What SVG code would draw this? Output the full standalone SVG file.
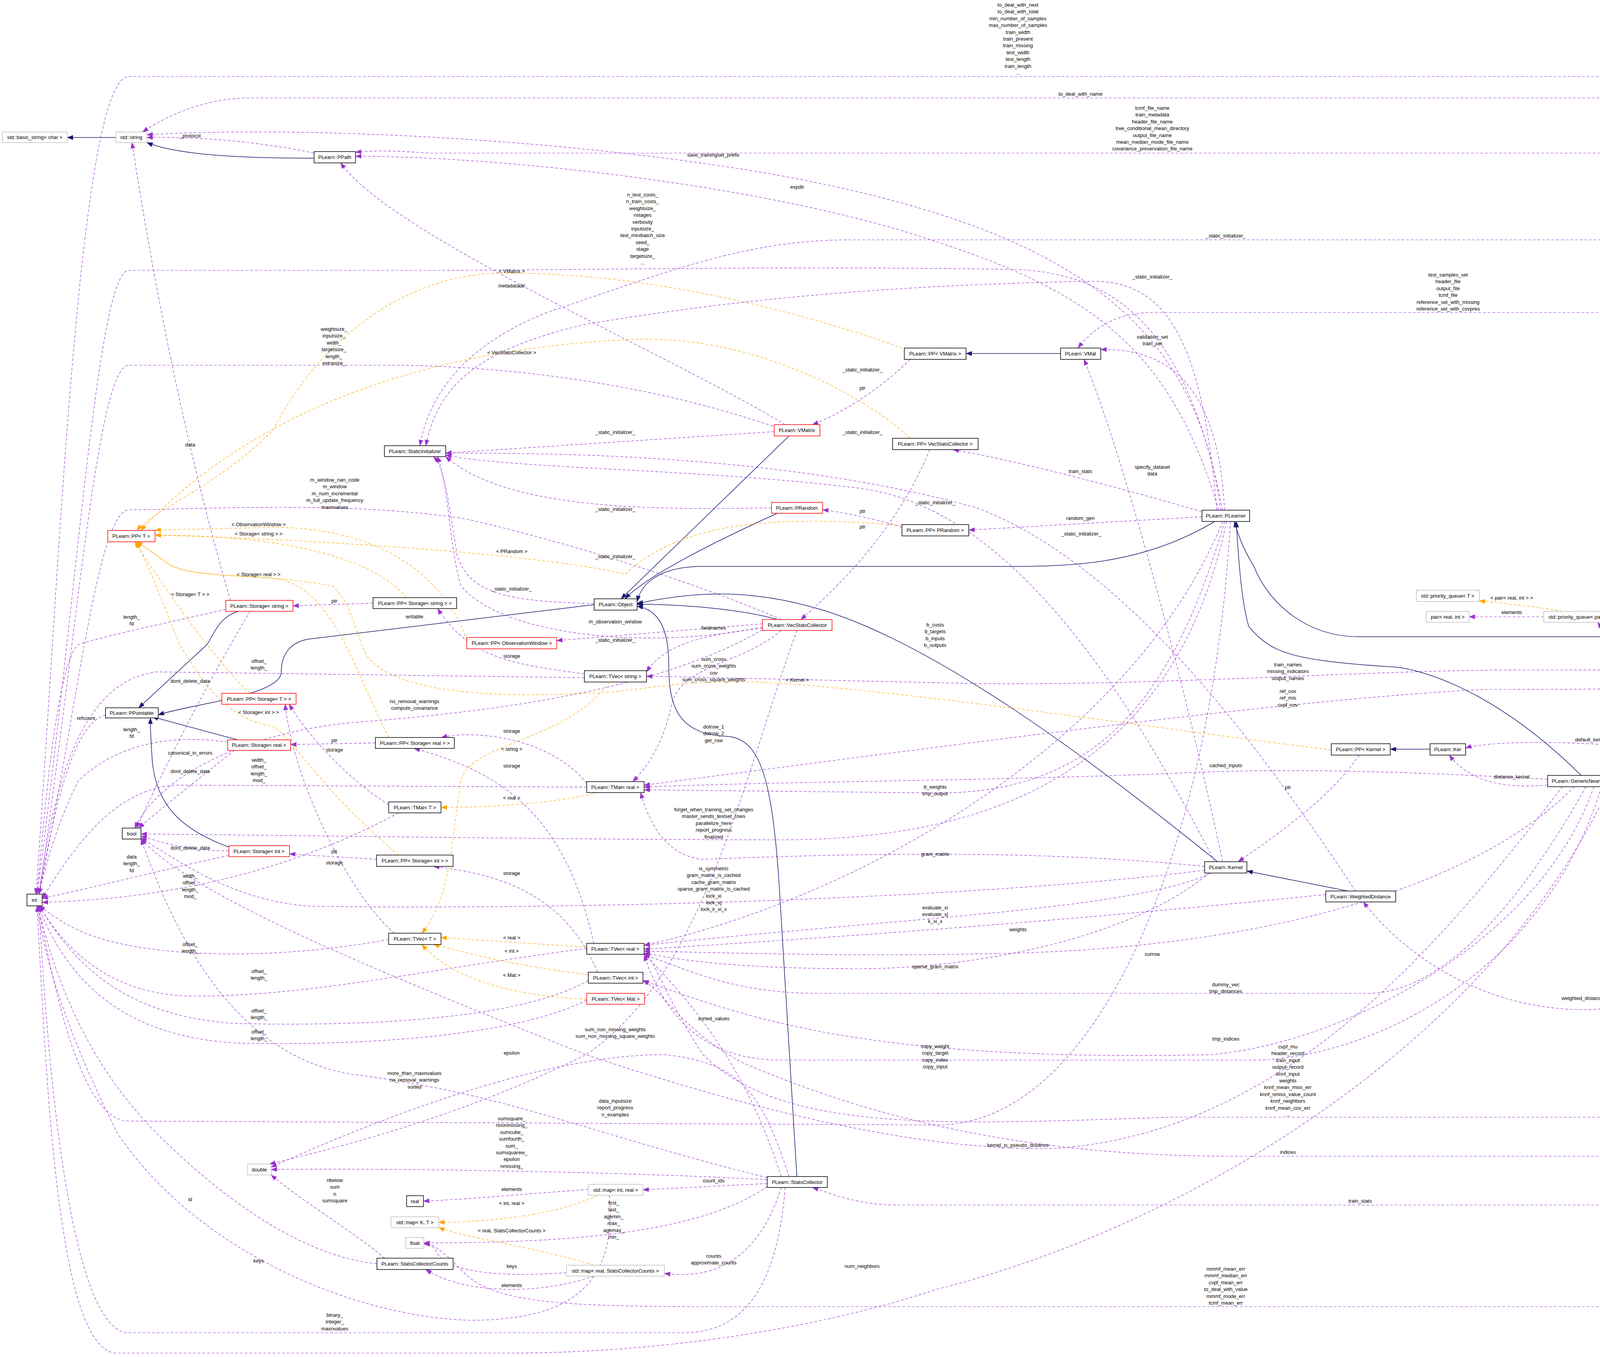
<svg xmlns="http://www.w3.org/2000/svg" width="4771" height="3474" viewBox="0 0 4771 3474">
<style>
text{font-family:"Liberation Sans",Arial,sans-serif;font-size:13px;fill:#000;text-anchor:middle}
.n{fill:#fff;stroke:#000;stroke-width:1.5}
.g{fill:#fff;stroke:#bfbfbf;stroke-width:1.5}
.r{fill:#fff;stroke:#f00;stroke-width:1.5}
.h{fill:#bfbfbf;stroke:#000;stroke-width:1.5}
.e{fill:none;stroke:#9a32cd;stroke-width:1.2;stroke-dasharray:7,5;marker-end:url(#ap)}
.o{fill:none;stroke:#ffa500;stroke-width:1.2;stroke-dasharray:7,5;marker-end:url(#ao)}
.s{fill:none;stroke:#191970;stroke-width:1.5;marker-end:url(#as)}
</style>
<defs>
<marker id="ap" markerUnits="userSpaceOnUse" markerWidth="16" markerHeight="12" refX="15" refY="6" orient="auto"><path d="M0,0L16,6L0,12z" fill="#9a32cd"/></marker>
<marker id="ao" markerUnits="userSpaceOnUse" markerWidth="16" markerHeight="12" refX="15" refY="6" orient="auto"><path d="M0,0L16,6L0,12z" fill="#ffa500"/></marker>
<marker id="as" markerUnits="userSpaceOnUse" markerWidth="16" markerHeight="12" refX="15" refY="6" orient="auto"><path d="M0,0L16,6L0,12z" fill="#191970"/></marker>
</defs>
<rect width="4771" height="3474" fill="#fff"/>
<g id="connectors">
<path class="e" d="M4678,1726 C4660,1000 4600,196 4420,196 L330,196 C200,196 150,1500 92,2289"/>
<path class="e" d="M4672,1726 C4650,1000 4580,251 4400,251 L640,251 C520,251 420,300 365,338"/>
<path class="e" d="M4666,1726 C4640,1000 4560,392 4400,392 L1100,392 C1000,385 950,385 910,390"/>
<path class="e" d="M4660,1726 C4620,1100 4560,614 4380,614 L2180,614 C1900,614 1700,700 1400,800 C1200,880 1100,1000 1075,1141"/>
<path class="e" d="M4654,1726 C4600,1200 4540,800 4380,800 L2950,800 C2850,800 2790,850 2760,891"/>
<path class="e" d="M4600,1735 C4400,1715 4300,1715 3900,1715 C3500,1715 3000,1755 2500,1750 L1655,1731"/>
<path class="e" d="M4600,1745 C4400,1765 4000,1765 3800,1765 C3300,1790 2500,1900 1649,2010"/>
<path class="e" d="M4650,1753 C4550,1830 4450,1880 4410,1915"/>
<path class="e" d="M4640,1753 C4450,2300 4300,2585 4060,2585 C3800,2585 3600,2450 3490,2309"/>
<path class="e" d="M4650,1753 C4600,2300 4550,2860 4380,2860 L3000,2860 C2400,2880 2000,2900 1800,2700 C1700,2550 1680,2460 1649,2440"/>
<path class="e" d="M4660,1753 C4620,2400 4560,2960 4380,2960 L3150,2960 C2600,2960 2200,2850 1900,2720 C1750,2640 1700,2540 1646,2510"/>
<path class="e" d="M4670,1753 C4640,2500 4580,3085 4380,3085 L2300,3085 C2200,3085 2140,3060 2080,3040"/>
<path class="e" d="M4676,1753 C4660,2700 4600,3345 4380,3345 L1800,3345 C1400,3345 1250,3330 1180,3250 C1130,3200 1110,3185 1085,3182"/>
<path class="s" d="M4640,1726 C4550,1660 4450,1630 4350,1630 L3477,1630 C3350,1630 3250,1550 3210,1450 C3180,1400 3170,1370 3160,1335"/>
<path class="e" d="M3130,1306 C3050,900 2900,700 2600,690 C2000,680 1500,692 1100,692 L330,692 C250,692 200,1500 95,2289"/>
<path class="e" d="M3125,1306 C3060,800 2700,580 2000,450 C1500,360 800,320 376,345"/>
<path class="e" d="M3120,1306 C3000,900 2800,750 2400,620 C2000,480 1300,400 910,400"/>
<path class="e" d="M3115,1306 C3080,900 3000,720 2800,720 C2200,730 1800,780 1500,830 C1200,900 1120,1000 1090,1141"/>
<path class="e" d="M3135,1306 C3120,1000 3000,890 2818,895"/>
<path class="e" d="M3077,1310 C2800,1230 2600,1180 2440,1151"/>
<path class="e" d="M3077,1323 L2480,1357"/>
<path class="s" d="M3110,1335 C2900,1460 2700,1450 2500,1450 L1800,1450 C1680,1450 1640,1500 1631,1540"/>
<path class="e" d="M3130,1335 C2900,1900 2200,2300 1649,2420"/>
<path class="e" d="M3135,1335 C3000,1800 2800,2030 2400,2030 L1649,2022"/>
<path class="e" d="M3962,1995 C3600,1975 3300,1965 3000,1980 C2500,2000 2000,2000 1649,2015"/>
<path class="e" d="M3140,1335 C3000,2000 2500,2150 2000,2150 C1500,2150 900,2140 361,2135"/>
<path class="e" d="M3150,1335 C3100,2200 2800,2880 2400,2880 L330,2870 C220,2870 150,2600 98,2319"/>
<path class="s" d="M3117,2206 C2800,1950 2400,1650 2100,1560 C1900,1500 1750,1520 1631,1545"/>
<path class="e" d="M3084,2218 C2700,2180 2300,2180 1800,2200 C1700,2190 1660,2100 1640,2029"/>
<path class="e" d="M3084,2228 C2500,2300 1500,2330 800,2320 C600,2310 450,2200 361,2145"/>
<path class="e" d="M3100,2235 C2900,2330 2300,2350 1649,2420"/>
<path class="e" d="M3110,2206 C2900,1800 2600,1300 2200,1250 C1800,1200 1300,1200 1141,1165"/>
<path class="e" d="M3130,2206 C3000,1600 2850,1100 2775,920"/>
<path class="e" d="M3095,2235 C2900,2400 2500,2480 2200,2480 C1900,2480 1750,2460 1649,2440"/>
<path class="s" d="M3450,2281 L3192,2230"/>
<path class="e" d="M3394,2290 C2800,2350 2300,2390 1649,2430"/>
<path class="e" d="M3470,2281 C3250,1950 2900,1450 2500,1300 C2000,1160 1400,1160 1141,1160"/>
<path class="s" d="M4048,1985 C3800,1740 3600,1707 3559,1707 C3300,1690 3253,1670 3197,1604 C3180,1550 3171,1450 3165,1335"/>
<path class="e" d="M3962,2010 C3850,2020 3760,2000 3710,1933"/>
<path class="e" d="M4030,2014 C3800,2250 3300,2420 2600,2440 C2200,2450 1900,2440 1649,2435"/>
<path class="e" d="M4060,2014 C3900,2300 3700,2543 3500,2543 L2100,2543 C1900,2543 1800,2500 1649,2443"/>
<path class="e" d="M4080,2014 C3950,2400 3450,2670 3100,2700 C2200,2720 1900,2600 1646,2510"/>
<path class="e" d="M4100,2014 C3950,2500 3500,2714 3200,2714 L2000,2714 C1800,2714 1700,2600 1649,2445"/>
<path class="e" d="M4000,2014 C3700,2400 3300,2900 2700,2940 C2300,2950 1800,2800 1500,2700 C1000,2500 500,2300 361,2148"/>
<path class="e" d="M4120,2014 C3800,2700 3000,3150 2400,3300 C2100,3400 1700,3464 1300,3464 L300,3464 C150,3464 120,2800 95,2319"/>
<path class="s" d="M4320,1943 L4135,1985"/>
<path class="e" d="M4259,1920 C4000,1890 3800,1900 3752,1915"/>
<path class="e" d="M4380,1915 C4300,1800 4150,1680 4090,1593"/>
<path class="s" d="M3661,1918 L3559,1918"/>
<path class="e" d="M3480,1933 C3400,2050 3250,2150 3170,2206"/>
<path class="o" d="M3408,1920 C3000,1870 2200,1750 1900,1745 C1700,1745 1600,1775 1500,1775 C1200,1790 1000,1760 940,1680 C900,1600 900,1540 850,1500 C700,1470 500,1480 440,1450 C400,1420 370,1400 350,1387"/>
<path class="e" d="M3952,1579 L3761,1579"/>
<path class="o" d="M4000,1565 C3900,1548 3800,1540 3787,1538"/>
<path class="s" d="M2715,905 L2473,905"/>
<path class="e" d="M2330,920 C2250,1000 2150,1060 2080,1087"/>
<path class="o" d="M2310,891 C2000,780 1600,690 1250,700 C1000,720 800,900 700,1100 C550,1250 400,1300 350,1358"/>
<path class="s" d="M2020,1116 L1590,1533"/>
<path class="e" d="M1982,1105 L1141,1160"/>
<path class="e" d="M2010,1087 C1700,900 1000,600 872,417"/>
<path class="e" d="M1990,1095 C1600,960 1200,935 1000,935 L330,935 C250,935 200,1600 100,2289"/>
<path class="e" d="M2380,1151 C2300,1350 2150,1500 2050,1586"/>
<path class="o" d="M2330,1122 C2200,1000 1900,850 1600,870 C1000,900 600,1100 360,1358"/>
<path class="s" d="M1990,1314 C1800,1400 1650,1480 1600,1533"/>
<path class="e" d="M1975,1300 C1700,1305 1300,1310 1141,1169"/>
<path class="e" d="M2309,1350 C2250,1330 2150,1310 2106,1305"/>
<path class="o" d="M2309,1345 C2000,1320 1750,1330 1600,1470 C1400,1420 800,1380 397,1370"/>
<path class="s" d="M1521,1548 L800,1635 C740,1640 720,1680 720,1720 C720,1780 500,1800 405,1830"/>
<path class="e" d="M1521,1545 C1300,1540 1200,1520 1170,1420 C1150,1300 1140,1200 1110,1169"/>
<path class="s" d="M1990,1586 C1900,1560 1750,1547 1631,1547"/>
<path class="e" d="M1952,1605 C1700,1660 1300,1640 1180,1500 C1150,1400 1150,1250 1120,1169"/>
<path class="e" d="M1952,1597 L1425,1640"/>
<path class="e" d="M1952,1608 C1800,1625 1700,1650 1655,1720"/>
<path class="e" d="M2000,1614 C1900,1700 1750,1700 1720,1800 C1700,1900 1660,1960 1620,2001"/>
<path class="e" d="M2000,1586 C1800,1500 1500,1400 1200,1330 C900,1280 500,1305 330,1305 C250,1310 200,1800 100,2289"/>
<path class="e" d="M1952,1612 C1700,1760 1300,1820 900,1850 C600,1880 400,2000 345,2120"/>
<path class="s" d="M2040,3012 L1998,2320 C1980,2000 1950,1890 1860,1885 C1730,1880 1712,1800 1712,1700 C1712,1600 1680,1560 1631,1552"/>
<path class="e" d="M1964,3020 C1600,3000 1000,2990 694,2994"/>
<path class="e" d="M1964,3030 L1646,3046"/>
<path class="e" d="M2000,3040 C1950,3200 1850,3280 1701,3260"/>
<path class="e" d="M1964,3038 C1800,3150 1500,3182 1085,3182"/>
<path class="e" d="M1964,3015 C1500,2900 1300,2800 900,2750 C600,2700 450,2400 361,2148"/>
<path class="e" d="M2010,3040 C1990,3300 1900,3412 1750,3412 L330,3412 C200,3412 130,2900 100,2319"/>
<path class="e" d="M2000,3012 C1900,2700 1750,2550 1649,2440"/>
<path class="e" d="M2020,3012 C1950,2800 1900,2720 1700,2700 C1400,2700 1000,2850 694,2988"/>
<path class="e" d="M2040,1614 C1900,2000 1800,2500 1500,2700 C1200,2850 900,2930 690,2980"/>
<path class="e" d="M1560,3060 C1580,3300 1450,3380 1200,3380 C900,3370 500,3200 300,2900 C200,2700 120,2500 95,2319"/>
<path class="e" d="M985,3221 C900,3150 780,3080 694,3008"/>
<path class="e" d="M965,3235 C800,3220 600,3100 400,2900 C250,2750 150,2550 97,2319"/>
<path class="e" d="M1520,3267 C1400,3310 1200,3320 1090,3250"/>
<path class="e" d="M1450,3258 C1300,3270 1150,3260 1120,3210 C1110,3190 1100,3185 1085,3185"/>
<path class="o" d="M1520,3239 C1400,3200 1200,3170 1123,3143"/>
<path class="e" d="M1506,3045 C1300,3060 1200,3070 1084,3075"/>
<path class="o" d="M1530,3060 C1450,3100 1300,3128 1123,3129"/>
<path class="s" d="M610,1565 C560,1580 550,1620 530,1650 L355,1812"/>
<path class="e" d="M578,1560 C450,1590 300,1620 200,1650 C150,1700 120,2000 95,2289"/>
<path class="e" d="M640,1565 C560,1700 450,1900 350,2120"/>
<path class="e" d="M590,1537 C520,1300 420,900 338,365"/>
<path class="e" d="M955,1544 L750,1551"/>
<path class="o" d="M1040,1530 C950,1420 700,1370 397,1370"/>
<path class="o" d="M1195,1640 C1150,1500 1000,1350 700,1350 L397,1357"/>
<path class="s" d="M608,1894 L390,1835"/>
<path class="e" d="M583,1900 C450,1880 300,1900 200,2000 C150,2100 120,2200 100,2289"/>
<path class="e" d="M600,1921 C500,2000 400,2080 355,2120"/>
<path class="e" d="M961,1902 L744,1906"/>
<path class="o" d="M995,1888 C900,1700 850,1500 700,1480 C600,1470 450,1480 400,1420 L350,1387"/>
<path class="s" d="M590,2170 C450,2120 400,2050 390,1950 C385,1880 385,1850 385,1838"/>
<path class="e" d="M586,2178 C500,2180 420,2160 361,2140"/>
<path class="e" d="M586,2190 C400,2230 250,2270 108,2300"/>
<path class="e" d="M964,2200 L741,2186"/>
<path class="o" d="M1020,2189 C800,2000 760,1900 700,1860 C580,1840 520,1750 460,1650 C420,1550 380,1450 350,1387"/>
<path class="o" d="M640,1775 C560,1700 450,1550 345,1387"/>
<path class="e" d="M270,1830 C200,1850 150,2000 100,2289"/>
<path class="e" d="M1496,1725 C1300,1700 1200,1680 1120,1558"/>
<path class="e" d="M1496,1735 L400,1720 C250,1740 150,1900 100,2289"/>
<path class="o" d="M1560,1746 C1450,1900 1200,1900 1180,2000 C1150,2200 1150,2300 1080,2389"/>
<path class="e" d="M1502,2005 C1400,1880 1200,1870 1130,1888"/>
<path class="e" d="M1502,2015 L450,2010 C300,2020 200,2150 108,2300"/>
<path class="o" d="M1530,2029 C1450,2050 1300,2067 1129,2067"/>
<path class="e" d="M995,2060 C900,2000 800,1900 740,1803"/>
<path class="e" d="M1020,2081 C800,2200 500,2300 108,2310"/>
<path class="e" d="M1010,2389 C900,2300 750,2000 730,1803"/>
<path class="e" d="M995,2405 C700,2460 400,2450 250,2400 C180,2380 130,2340 100,2319"/>
<path class="e" d="M1520,2415 C1450,2100 1300,1980 1060,1916"/>
<path class="e" d="M1502,2428 C1100,2480 800,2550 500,2550 C300,2550 180,2450 100,2319"/>
<path class="o" d="M1502,2425 L1129,2400"/>
<path class="e" d="M1530,2489 C1450,2300 1300,2240 1110,2218"/>
<path class="e" d="M1506,2510 C1350,2600 1000,2630 600,2620 C300,2600 180,2450 100,2319"/>
<path class="o" d="M1506,2495 C1300,2470 1200,2440 1110,2418"/>
<path class="e" d="M1502,2560 C1350,2640 1000,2680 600,2670 C300,2650 170,2500 97,2319"/>
<path class="o" d="M1502,2558 C1300,2550 1150,2500 1080,2418"/>
<path class="s" d="M804,405 C600,405 450,395 376,365"/>
<path class="e" d="M804,392 C650,360 500,350 376,352"/>
<path class="s" d="M297,352 L172,352"/>
</g>
<g id="labels">
<text x="2606" y="17">to_deal_with_next<tspan x="2606" dy="17.4">to_deal_with_total</tspan><tspan x="2606" dy="17.4">min_number_of_samples</tspan><tspan x="2606" dy="17.4">max_number_of_samples</tspan><tspan x="2606" dy="17.4">train_width</tspan><tspan x="2606" dy="17.4">train_present</tspan><tspan x="2606" dy="17.4">train_missing</tspan><tspan x="2606" dy="17.4">test_width</tspan><tspan x="2606" dy="17.4">test_length</tspan><tspan x="2606" dy="17.4">train_length</tspan><tspan x="2606" dy="17.4">...</tspan></text>
<text x="2766" y="245">to_deal_with_name</text>
<text x="2950" y="281">tcmf_file_name<tspan x="2950" dy="17.4">train_metadata</tspan><tspan x="2950" dy="17.4">header_file_name</tspan><tspan x="2950" dy="17.4">tree_conditional_mean_directory</tspan><tspan x="2950" dy="17.4">output_file_name</tspan><tspan x="2950" dy="17.4">mean_median_mode_file_name</tspan><tspan x="2950" dy="17.4">covariance_preservation_file_name</tspan></text>
<text x="487" y="352">_protocol</text>
<text x="1826" y="401">save_trainingset_prefix</text>
<text x="2041" y="483">expdir</text>
<text x="1645" y="503">n_test_costs_<tspan x="1645" dy="17.4">n_train_costs_</tspan><tspan x="1645" dy="17.4">weightsize_</tspan><tspan x="1645" dy="17.4">nstages</tspan><tspan x="1645" dy="17.4">verbosity</tspan><tspan x="1645" dy="17.4">inputsize_</tspan><tspan x="1645" dy="17.4">test_minibatch_size</tspan><tspan x="1645" dy="17.4">seed_</tspan><tspan x="1645" dy="17.4">stage</tspan><tspan x="1645" dy="17.4">targetsize_</tspan><tspan x="1645" dy="17.4">...</tspan></text>
<text x="3138" y="608">_static_initializer_</text>
<text x="1310" y="699">&lt; VMatrix &gt;</text>
<text x="2950" y="713">_static_initializer_</text>
<text x="3707" y="708">test_samples_set<tspan x="3707" dy="17.4">header_file</tspan><tspan x="3707" dy="17.4">output_file</tspan><tspan x="3707" dy="17.4">tcmf_file</tspan><tspan x="3707" dy="17.4">reference_set_with_missing</tspan><tspan x="3707" dy="17.4">reference_set_with_covpres</tspan></text>
<text x="1310" y="736">metadatadir</text>
<text x="855" y="847">weightsize_<tspan x="855" dy="17.4">inputsize_</tspan><tspan x="855" dy="17.4">width_</tspan><tspan x="855" dy="17.4">targetsize_</tspan><tspan x="855" dy="17.4">length_</tspan><tspan x="855" dy="17.4">extrasize_</tspan></text>
<text x="2950" y="867">validation_set<tspan x="2950" dy="17.4">train_set</tspan></text>
<text x="1310" y="907">&lt; VecStatsCollector &gt;</text>
<text x="2208" y="951">_static_initializer_</text>
<text x="2208" y="998">ptr</text>
<text x="1575" y="1111">_static_initializer_</text>
<text x="2208" y="1111">_static_initializer_</text>
<text x="487" y="1143">data</text>
<text x="2766" y="1211">train_stats</text>
<text x="2950" y="1200">specify_dataset<tspan x="2950" dy="17.4">data</tspan></text>
<text x="857" y="1233">m_window_nan_code<tspan x="857" dy="17.4">m_window</tspan><tspan x="857" dy="17.4">m_num_incremental</tspan><tspan x="857" dy="17.4">m_full_update_frequency</tspan><tspan x="857" dy="17.4">maxnvalues</tspan></text>
<text x="2394" y="1291">_static_initializer_</text>
<text x="1575" y="1308">_static_initializer_</text>
<text x="2208" y="1313">ptr</text>
<text x="2766" y="1331">random_gen</text>
<text x="662" y="1347">&lt; ObservationWindow &gt;</text>
<text x="2208" y="1353">ptr</text>
<text x="2768" y="1371">_static_initializer_</text>
<text x="662" y="1371">&lt; Storage&lt; string &gt; &gt;</text>
<text x="1310" y="1416">&lt; PRandom &gt;</text>
<text x="1575" y="1429">_static_initializer_</text>
<text x="662" y="1475">&lt; Storage&lt; real &gt; &gt;</text>
<text x="1310" y="1512">_static_initializer_</text>
<text x="487" y="1526">&lt; Storage&lt; T &gt; &gt;</text>
<text x="856" y="1543">ptr</text>
<text x="3870" y="1535">&lt; pair&lt; real, int &gt; &gt;</text>
<text x="3870" y="1572">elements</text>
<text x="337" y="1584">length_<tspan x="337" dy="17.4">fd</tspan></text>
<text x="1061" y="1583">writable</text>
<text x="1575" y="1596">m_observation_window</text>
<text x="2394" y="1604">b_costs<tspan x="2394" dy="17.4">b_targets</tspan><tspan x="2394" dy="17.4">b_inputs</tspan><tspan x="2394" dy="17.4">b_outputs</tspan></text>
<text x="1827" y="1612">fieldnames</text>
<text x="1575" y="1643">_static_initializer_</text>
<text x="1310" y="1684">storage</text>
<text x="1827" y="1692">sum_cross<tspan x="1827" dy="17.4">sum_cross_weights</tspan><tspan x="1827" dy="17.4">cov</tspan><tspan x="1827" dy="17.4">sum_cross_square_weights</tspan></text>
<text x="663" y="1697">offset_<tspan x="663" dy="17.4">length_</tspan></text>
<text x="3297" y="1706">train_names<tspan x="3297" dy="17.4">missing_indicators</tspan><tspan x="3297" dy="17.4">output_names</tspan></text>
<text x="2041" y="1745">&lt; Kernel &gt;</text>
<text x="487" y="1748">dont_delete_data</text>
<text x="4226" y="1749">pq</text>
<text x="3297" y="1774">ref_cov<tspan x="3297" dy="17.4">ref_mis</tspan><tspan x="3297" dy="17.4">cvpf_cov</tspan></text>
<text x="1061" y="1800">no_removal_warnings<tspan x="1061" dy="17.4">compute_covariance</tspan></text>
<text x="4551" y="1808">ball_tree</text>
<text x="662" y="1828">&lt; Storage&lt; int &gt; &gt;</text>
<text x="220" y="1843">refcount</text>
<text x="1827" y="1865">dotrow_1<tspan x="1827" dy="17.4">dotrow_2</tspan><tspan x="1827" dy="17.4">get_row</tspan></text>
<text x="337" y="1872">length_<tspan x="337" dy="17.4">fd</tspan></text>
<text x="1310" y="1876">storage</text>
<text x="4073" y="1898">default_kernel</text>
<text x="856" y="1900">ptr</text>
<text x="1310" y="1922">&lt; string &gt;</text>
<text x="856" y="1924">storage</text>
<text x="487" y="1932">canonical_in_errors</text>
<text x="663" y="1950">width_<tspan x="663" dy="17.4">offset_</tspan><tspan x="663" dy="17.4">length_</tspan><tspan x="663" dy="17.4">mod_</tspan></text>
<text x="3138" y="1964">cached_inputs</text>
<text x="1310" y="1965">storage</text>
<text x="487" y="1979">dont_delete_data</text>
<text x="3870" y="1993">distance_kernel</text>
<text x="2394" y="2019">b_weights<tspan x="2394" dy="17.4">tmp_output</tspan></text>
<text x="3297" y="2020">ptr</text>
<text x="1310" y="2047">&lt; real &gt;</text>
<text x="1827" y="2077">forget_when_training_set_changes<tspan x="1827" dy="17.4">master_sends_testset_rows</tspan><tspan x="1827" dy="17.4">parallelize_here</tspan><tspan x="1827" dy="17.4">report_progress</tspan><tspan x="1827" dy="17.4">finalized</tspan></text>
<text x="487" y="2175">dont_delete_data</text>
<text x="856" y="2184">ptr</text>
<text x="2394" y="2191">gram_matrix</text>
<text x="337" y="2198">data<tspan x="337" dy="17.4">length_</tspan><tspan x="337" dy="17.4">fd</tspan></text>
<text x="856" y="2213">storage</text>
<text x="1827" y="2228">is_symmetric<tspan x="1827" dy="17.4">gram_matrix_is_cached</tspan><tspan x="1827" dy="17.4">cache_gram_matrix</tspan><tspan x="1827" dy="17.4">sparse_gram_matrix_is_cached</tspan><tspan x="1827" dy="17.4">lock_xi</tspan><tspan x="1827" dy="17.4">lock_xj</tspan><tspan x="1827" dy="17.4">lock_k_xi_x</tspan></text>
<text x="1310" y="2240">storage</text>
<text x="487" y="2247">width_<tspan x="487" dy="17.4">offset_</tspan><tspan x="487" dy="17.4">length_</tspan><tspan x="487" dy="17.4">mod_</tspan></text>
<text x="2394" y="2328">evaluate_xi<tspan x="2394" dy="17.4">evaluate_xj</tspan><tspan x="2394" dy="17.4">k_xi_x</tspan></text>
<text x="2606" y="2384">weights</text>
<text x="1310" y="2405">&lt; real &gt;</text>
<text x="487" y="2422">offset_<tspan x="487" dy="17.4">length_</tspan></text>
<text x="1310" y="2439">&lt; int &gt;</text>
<text x="2950" y="2447">currow</text>
<text x="2394" y="2479">sparse_gram_matrix</text>
<text x="663" y="2491">offset_<tspan x="663" dy="17.4">length_</tspan></text>
<text x="1310" y="2501">&lt; Mat &gt;</text>
<text x="3138" y="2525">dummy_vec<tspan x="3138" dy="17.4">tmp_distances</tspan></text>
<text x="4073" y="2560">weighted_distance_kernel</text>
<text x="663" y="2592">offset_<tspan x="663" dy="17.4">length_</tspan></text>
<text x="1827" y="2612">sorted_values</text>
<text x="1575" y="2640">sum_non_missing_weights<tspan x="1575" dy="17.4">sum_non_missing_square_weights</tspan></text>
<text x="663" y="2646">offset_<tspan x="663" dy="17.4">length_</tspan></text>
<text x="3138" y="2664">tmp_indices</text>
<text x="2394" y="2683">copy_weight<tspan x="2394" dy="17.4">copy_target</tspan><tspan x="2394" dy="17.4">copy_index</tspan><tspan x="2394" dy="17.4">copy_input</tspan></text>
<text x="3297" y="2684">cvpf_mu<tspan x="3297" dy="17.4">header_record</tspan><tspan x="3297" dy="17.4">train_input</tspan><tspan x="3297" dy="17.4">output_record</tspan><tspan x="3297" dy="17.4">knnf_input</tspan><tspan x="3297" dy="17.4">weights</tspan><tspan x="3297" dy="17.4">knnf_mean_miss_err</tspan><tspan x="3297" dy="17.4">knnf_nmiss_value_count</tspan><tspan x="3297" dy="17.4">knnf_neighbors</tspan><tspan x="3297" dy="17.4">knnf_mean_cov_err</tspan><tspan x="3297" dy="17.4">...</tspan></text>
<text x="1310" y="2700">epsilon</text>
<text x="1061" y="2752">more_than_maxnvalues<tspan x="1061" dy="17.4">no_removal_warnings</tspan><tspan x="1061" dy="17.4">sorted</tspan></text>
<text x="1575" y="2823">data_inputsize<tspan x="1575" dy="17.4">report_progress</tspan><tspan x="1575" dy="17.4">n_examples</tspan></text>
<text x="1310" y="2868">sumsquare_<tspan x="1310" dy="17.4">nnonmissing_</tspan><tspan x="1310" dy="17.4">sumcube_</tspan><tspan x="1310" dy="17.4">sumfourth_</tspan><tspan x="1310" dy="17.4">sum_</tspan><tspan x="1310" dy="17.4">sumsquarew_</tspan><tspan x="1310" dy="17.4">epsilon</tspan><tspan x="1310" dy="17.4">nmissing_</tspan></text>
<text x="2606" y="2936">kernel_is_pseudo_distance</text>
<text x="3297" y="2954">indices</text>
<text x="857" y="3026">nbelow<tspan x="857" dy="17.4">sum</tspan><tspan x="857" dy="17.4">n</tspan><tspan x="857" dy="17.4">sumsquare</tspan></text>
<text x="1827" y="3027">count_ids</text>
<text x="1310" y="3049">elements</text>
<text x="487" y="3075">id</text>
<text x="3482" y="3079">train_stats</text>
<text x="1310" y="3085">&lt; int, real &gt;</text>
<text x="1571" y="3084">first_<tspan x="1571" dy="17.4">last_</tspan><tspan x="1571" dy="17.4">agemin_</tspan><tspan x="1571" dy="17.4">max_</tspan><tspan x="1571" dy="17.4">agemax_</tspan><tspan x="1571" dy="17.4">min_</tspan></text>
<text x="1310" y="3155">&lt; real, StatsCollectorCounts &gt;</text>
<text x="1827" y="3220">counts<tspan x="1827" dy="17.4">approximate_counts</tspan></text>
<text x="662" y="3232">keys</text>
<text x="1310" y="3246">keys</text>
<text x="2207" y="3246">num_neighbors</text>
<text x="3138" y="3253">mmmf_mean_err<tspan x="3138" dy="17.4">mmmf_median_err</tspan><tspan x="3138" dy="17.4">cvpf_mean_err</tspan><tspan x="3138" dy="17.4">to_deal_with_value</tspan><tspan x="3138" dy="17.4">mmmf_mode_err</tspan><tspan x="3138" dy="17.4">tcmf_mean_err</tspan></text>
<text x="1310" y="3295">elements</text>
<text x="857" y="3371">binary_<tspan x="857" dy="17.4">integer_</tspan><tspan x="857" dy="17.4">maxnvalues</tspan></text>
</g>
<g id="n_basicstring"><rect class="g" x="6" y="338" width="166" height="27"/><text x="89" y="356">std::basic_string&lt; char &gt;</text></g>
<g id="n_string"><rect class="g" x="297" y="338" width="79" height="27"/><text x="336" y="356">std::string</text></g>
<g id="n_ppath"><rect class="n" x="804" y="388" width="106" height="29"/><text x="857" y="407">PLearn::PPath</text></g>
<g id="n_staticinit"><rect class="n" x="984" y="1141" width="157" height="28"/><text x="1062" y="1160">PLearn::StaticInitializer</text></g>
<g id="n_ppvmatrix"><rect class="n" x="2315" y="891" width="158" height="29"/><text x="2394" y="910">PLearn::PP&lt; VMatrix &gt;</text></g>
<g id="n_vmat"><rect class="n" x="2715" y="891" width="103" height="29"/><text x="2766" y="910">PLearn::VMat</text></g>
<g id="n_vmatrix"><rect class="r" x="1982" y="1087" width="117" height="29"/><text x="2040" y="1106">PLearn::VMatrix</text></g>
<g id="n_ppvsc"><rect class="n" x="2285" y="1122" width="219" height="29"/><text x="2394" y="1141">PLearn::PP&lt; VecStatsCollector &gt;</text></g>
<g id="n_prandom"><rect class="r" x="1975" y="1286" width="131" height="28"/><text x="2040" y="1305">PLearn::PRandom</text></g>
<g id="n_ppprandom"><rect class="n" x="2309" y="1343" width="171" height="29"/><text x="2394" y="1362">PLearn::PP&lt; PRandom &gt;</text></g>
<g id="n_plearner"><rect class="n" x="3077" y="1306" width="122" height="29"/><text x="3138" y="1325">PLearn::PLearner</text></g>
<g id="n_ppt"><rect class="r" x="276" y="1358" width="121" height="29"/><text x="336" y="1377">PLearn::PP&lt; T &gt;</text></g>
<g id="n_storagestring"><rect class="r" x="578" y="1537" width="172" height="28"/><text x="664" y="1556">PLearn::Storage&lt; string &gt;</text></g>
<g id="n_ppstoragestring"><rect class="n" x="955" y="1530" width="214" height="28"/><text x="1062" y="1549">PLearn::PP&lt; Storage&lt; string &gt; &gt;</text></g>
<g id="n_object"><rect class="n" x="1521" y="1533" width="110" height="29"/><text x="1576" y="1552">PLearn::Object</text></g>
<g id="n_vsc"><rect class="r" x="1952" y="1586" width="178" height="28"/><text x="2041" y="1605">PLearn::VecStatsCollector</text></g>
<g id="n_pqt"><rect class="g" x="3626" y="1511" width="161" height="29"/><text x="3706" y="1530">std::priority_queue&lt; T &gt;</text></g>
<g id="n_pair"><rect class="g" x="3651" y="1565" width="110" height="28"/><text x="3706" y="1584">pair&lt; real, int &gt;</text></g>
<g id="n_pqpair"><rect class="g" x="3952" y="1565" width="241" height="28"/><text x="4072" y="1584">std::priority_queue&lt; pair&lt; real, int &gt; &gt;</text></g>
<g id="n_ppobswin"><rect class="r" x="1195" y="1632" width="230" height="29"/><text x="1310" y="1651">PLearn::PP&lt; ObservationWindow &gt;</text></g>
<g id="n_tvecstring"><rect class="n" x="1496" y="1717" width="159" height="29"/><text x="1575" y="1736">PLearn::TVec&lt; string &gt;</text></g>
<g id="n_testimp"><rect class="h" x="4600" y="1726" width="165" height="27"/><text x="4682" y="1744">PLearn::TestImputations</text></g>
<g id="n_ppstoraget"><rect class="r" x="568" y="1775" width="190" height="28"/><text x="663" y="1794">PLearn::PP&lt; Storage&lt; T &gt; &gt;</text></g>
<g id="n_ppointable"><rect class="n" x="270" y="1812" width="135" height="26"/><text x="337" y="1830">PLearn::PPointable</text></g>
<g id="n_storagereal"><rect class="r" x="583" y="1894" width="161" height="27"/><text x="663" y="1912">PLearn::Storage&lt; real &gt;</text></g>
<g id="n_ppstoragereal"><rect class="n" x="961" y="1888" width="202" height="28"/><text x="1062" y="1907">PLearn::PP&lt; Storage&lt; real &gt; &gt;</text></g>
<g id="n_ppkernel"><rect class="n" x="3408" y="1904" width="151" height="29"/><text x="3483" y="1923">PLearn::PP&lt; Kernel &gt;</text></g>
<g id="n_ker"><rect class="n" x="3661" y="1904" width="91" height="29"/><text x="3706" y="1923">PLearn::Ker</text></g>
<g id="n_exhaustive"><rect class="n" x="4259" y="1915" width="241" height="28"/><text x="4379" y="1934">PLearn::ExhaustiveNearestNeighbors</text></g>
<g id="n_generic"><rect class="n" x="3962" y="1985" width="221" height="29"/><text x="4072" y="2004">PLearn::GenericNearestNeighbors</text></g>
<g id="n_tmatreal"><rect class="n" x="1502" y="2001" width="147" height="28"/><text x="1575" y="2020">PLearn::TMat&lt; real &gt;</text></g>
<g id="n_tmatt"><rect class="n" x="995" y="2053" width="134" height="28"/><text x="1062" y="2072">PLearn::TMat&lt; T &gt;</text></g>
<g id="n_bool"><rect class="n" x="313" y="2120" width="48" height="28"/><text x="337" y="2139">bool</text></g>
<g id="n_storageint"><rect class="r" x="586" y="2165" width="155" height="28"/><text x="663" y="2184">PLearn::Storage&lt; int &gt;</text></g>
<g id="n_ppstorageint"><rect class="n" x="964" y="2189" width="196" height="29"/><text x="1062" y="2208">PLearn::PP&lt; Storage&lt; int &gt; &gt;</text></g>
<g id="n_kernel"><rect class="n" x="3084" y="2206" width="108" height="29"/><text x="3138" y="2225">PLearn::Kernel</text></g>
<g id="n_weighted"><rect class="n" x="3394" y="2281" width="179" height="28"/><text x="3483" y="2300">PLearn::WeightedDistance</text></g>
<g id="n_int"><rect class="n" x="69" y="2289" width="39" height="30"/><text x="88" y="2309">int</text></g>
<g id="n_tvect"><rect class="n" x="995" y="2389" width="134" height="29"/><text x="1062" y="2408">PLearn::TVec&lt; T &gt;</text></g>
<g id="n_tvecreal"><rect class="n" x="1502" y="2415" width="147" height="28"/><text x="1575" y="2434">PLearn::TVec&lt; real &gt;</text></g>
<g id="n_tvecint"><rect class="n" x="1506" y="2489" width="140" height="28"/><text x="1576" y="2508">PLearn::TVec&lt; int &gt;</text></g>
<g id="n_tvecmat"><rect class="r" x="1502" y="2543" width="148" height="28"/><text x="1576" y="2562">PLearn::TVec&lt; Mat &gt;</text></g>
<g id="n_double"><rect class="g" x="634" y="2980" width="60" height="28"/><text x="664" y="2999">double</text></g>
<g id="n_statscollector"><rect class="n" x="1964" y="3012" width="154" height="28"/><text x="2041" y="3031">PLearn::StatsCollector</text></g>
<g id="n_mapintreal"><rect class="g" x="1506" y="3032" width="140" height="28"/><text x="1576" y="3051">std::map&lt; int, real &gt;</text></g>
<g id="n_real"><rect class="n" x="1041" y="3061" width="43" height="28"/><text x="1062" y="3080">real</text></g>
<g id="n_mapkt"><rect class="g" x="1001" y="3115" width="122" height="28"/><text x="1062" y="3134">std::map&lt; K, T &gt;</text></g>
<g id="n_float"><rect class="g" x="1039" y="3168" width="46" height="28"/><text x="1062" y="3187">float</text></g>
<g id="n_scc"><rect class="n" x="965" y="3221" width="195" height="29"/><text x="1062" y="3240">PLearn::StatsCollectorCounts</text></g>
<g id="n_maprealscc"><rect class="g" x="1450" y="3239" width="251" height="28"/><text x="1575" y="3258">std::map&lt; real, StatsCollectorCounts &gt;</text></g>
</svg>
